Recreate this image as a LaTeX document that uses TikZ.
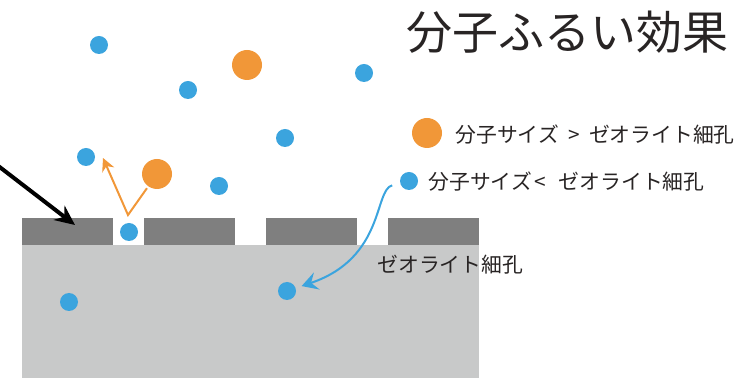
\documentclass[tikz,border=0pt]{standalone}
\usepackage{fontspec}
\setmainfont{Noto Sans CJK JP}
\usepackage{xcolor}
\usetikzlibrary{positioning,arrows.meta}
\definecolor{ballblue}{RGB}{59,164,222}
\definecolor{ballorange}{RGB}{241,151,56}
\definecolor{porewall}{RGB}{127,127,127}
\definecolor{zeolite}{RGB}{200,201,201}
\definecolor{inktext}{RGB}{40,36,36}

\begin{document}
\begin{tikzpicture}[
    x=0.5pt, y=-0.5pt, >=Stealth,
    small/.style={circle, fill=ballblue, minimum size=9pt, inner sep=0pt},
    big/.style={circle, fill=ballorange, minimum size=15pt, inner sep=0pt},
    lbl/.style={font=\fontsize{10.4}{12}\selectfont, text=inktext,
                inner sep=0pt, anchor=west},
    wall/.style={fill=porewall},
    arr/.style={->, line width=1pt}
  ]
  \useasboundingbox (0,0) rectangle (753,378);

  \fill[zeolite] (22,245) rectangle (479,378);
  \fill[wall] (22,218)  rectangle (113,245);
  \fill[wall] (144,218) rectangle (235,245);
  \fill[wall] (266,218) rectangle (357,245);
  \fill[wall] (388,218) rectangle (479,245);

  \node[small] (s1) at (99,45)   {};
  \node[small] (s2) at (188,90)  {};
  \node[small] (s3) at (364,73)  {};
  \node[small] (s4) at (285,138) {};
  \node[small] (s5) at (86,157)  {};
  \node[small] (s6) at (219,186) {};
  \node[small] (sPore) at (129,232) {};
  \node[small] (sIn1) at (69,302)  {};
  \node[small] (sIn2) at (287,291) {};
  \node[big]   (b1) at (247,65)  {};
  \node[big]   (b2) at (157,174) {};

  \node[font=\fontsize{23}{26}\selectfont, text=inktext, inner sep=0pt]
       (title) at (567,32) {分子ふるい効果};

  \node[big]   (legBig)   at (427,133) {};
  \node[small] (legSmall) at (409,181) {};
  \node[lbl] (legBigTxt)   at (455,135) {分子サイズ\hspace{0.45em}>\hspace{0.45em}ゼオライト細孔};
  \node[lbl] (legSmallTxt) at (428,182) {分子サイズ\hspace{0.15em}<\hspace{0.6em}ゼオライト細孔};
  \node[lbl] (poreTxt)     at (377,265) {ゼオライト細孔};

  \coordinate (bounce) at (128,215);
  \coordinate (bounceEnd) at (103,158);
  \coordinate (ptrTail) at (-3,165);
  \coordinate (ptrTip) at (75,225);

  \draw[-{Stealth[length=10pt,width=9pt]}, line width=2pt] (ptrTail) -- (ptrTip);
  \draw[arr, draw=ballorange, -{Stealth[length=6.5pt,width=6.5pt]}, shorten <=1pt]
       (b2) -- (bounce) -- (bounceEnd);
  \draw[arr, draw=ballblue, -{Stealth[length=8pt,width=9pt,inset=3pt]},
        shorten <=4pt, shorten >=3pt]
       (legSmall) .. controls (374,190) and (385,258) .. (sIn2);
\end{tikzpicture}
\end{document}
